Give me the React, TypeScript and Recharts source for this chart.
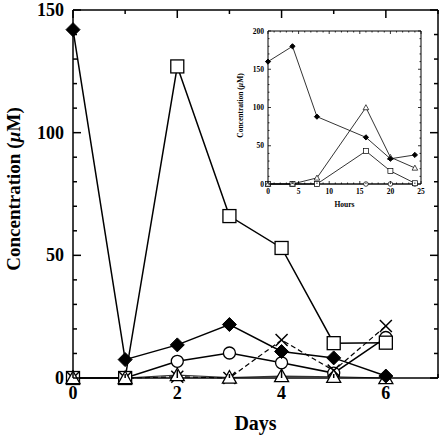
import { Label, Line, LineChart, XAxis, YAxis } from "recharts";

// main chart (days)
const days = [0, 1, 2, 3, 4, 5, 6];
const diamondDays = [142, 7.5, 13.5, 21.8, 10.8, 8.2, 0.8];
const squareDays = [0, 0, 127, 66, 53, 14.2, 14.4];
const circleDays = [0, 0, 6.8, 10.2, 6.2, 2, 16.5];
const crossDays = [0, 0, 0.5, 0, 15.5, 3, 21.2];
const triangleDays = [0, 0, 1.2, 0.2, 0.8, 0.5, 0];

const dayTicks = [0, 1, 2, 3, 4, 5, 6, 7];
const concTicks = [0, 10, 20, 30, 40, 50, 60, 70, 80, 90, 100, 110, 120, 130, 140, 150];

// inset (hours)
const hours = [0, 4, 8, 16, 20, 24];
const diamondHours = [160, 180, 88, 61, 33, 38];
const triangleHours = [0, 0, 8, 100, 35, 21];
const squareHours = [0, 0, 0, 43, 17, 1];
const circleHours = [0, 0, 0, 0, 0, 0];

const hourTicks = Array.from({ length: 26 }, (_, i) => i);
const insetConcTicks = Array.from({ length: 21 }, (_, i) => i * 10);

const mainData = days.map((d, i) => ({
  day: d,
  diamond: diamondDays[i],
  square: squareDays[i],
  circle: circleDays[i],
  cross: crossDays[i],
  triangle: triangleDays[i],
}));

const insetData = hours.map((h, i) => ({
  hour: h,
  diamond: diamondHours[i],
  triangle: triangleHours[i],
  square: squareHours[i],
  circle: circleHours[i],
}));

const FONT = "'Liberation Serif', 'Times New Roman', serif";

type Side = "bottom" | "top" | "left" | "right";

// inward tick marks, longer on major values, label only on majors when asked
function makeTick(
  side: Side,
  majorEvery: number,
  len: number,
  fontSize: number,
  gap: number,
  labels: boolean,
  sw: number
) {
  return (props: any) => {
    const x = Number(props.x);
    const y = Number(props.y);
    const v = props.payload.value;
    const major = v % majorEvery === 0;
    const l = major ? len : len / 2;
    let d = "";
    let text = null;
    const txt = { fontFamily: FONT, fontWeight: "bold" as const, fontSize, fill: "#000", stroke: "none" };
    if (side === "bottom") {
      d = `M${x},${y}V${y - l}`;
      if (labels && major)
        text = (
          <text x={x} y={y + gap} textAnchor="middle" dominantBaseline="hanging" {...txt}>
            {v}
          </text>
        );
    } else if (side === "top") {
      d = `M${x},${y}V${y + l}`;
    } else if (side === "left") {
      d = `M${x},${y}H${x + l}`;
      if (labels && major)
        text = (
          <text x={x - gap} y={y} textAnchor="end" dominantBaseline="central" {...txt}>
            {v}
          </text>
        );
    } else {
      d = `M${x},${y}H${x - l}`;
    }
    return (
      <g key={props.index}>
        <path d={d} stroke="#000" strokeWidth={sw} fill="none" />
        {text}
      </g>
    );
  };
}

function diamond(r: number) {
  return (p: any) => (
    <polygon
      key={p.index}
      points={`${p.cx},${p.cy - r} ${p.cx + r},${p.cy} ${p.cx},${p.cy + r} ${p.cx - r},${p.cy}`}
      fill="#000"
      stroke="#000"
    />
  );
}

function square(r: number, sw: number) {
  return (p: any) => (
    <rect key={p.index} x={p.cx - r} y={p.cy - r} width={2 * r} height={2 * r} fill="#fff" stroke="#000" strokeWidth={sw} />
  );
}

function circle(r: number, sw: number) {
  return (p: any) => <circle key={p.index} cx={p.cx} cy={p.cy} r={r} fill="#fff" stroke="#000" strokeWidth={sw} />;
}

function triangle(r: number, sw: number) {
  return (p: any) => (
    <polygon
      key={p.index}
      points={`${p.cx},${p.cy - r} ${p.cx + r},${p.cy + r * 0.8} ${p.cx - r},${p.cy + r * 0.8}`}
      fill="#fff"
      stroke="#000"
      strokeWidth={sw}
    />
  );
}

function cross(r: number, sw: number) {
  return (p: any) => (
    <g key={p.index} stroke="#000" strokeWidth={sw}>
      <line x1={p.cx - r} y1={p.cy - r} x2={p.cx + r} y2={p.cy + r} />
      <line x1={p.cx - r} y1={p.cy + r} x2={p.cx + r} y2={p.cy - r} />
    </g>
  );
}

function MainChart() {
  const axisLine = { stroke: "#000", strokeWidth: 1.5 };
  return (
    <LineChart width={441} height={439} data={mainData} margin={{ top: 9, right: 2, bottom: 0, left: 0 }}>
      <XAxis
        xAxisId="b"
        dataKey="day"
        type="number"
        domain={[0, 7]}
        ticks={dayTicks}
        interval={0}
        height={61}
        tickSize={0}
        tickMargin={0}
        tickLine={false}
        axisLine={axisLine}
        tick={makeTick("bottom", 2, 8, 18, 8, true, 1.5)}
      >
        <Label
          content={(p: any) => {
            const vb = p.viewBox;
            return (
              <text
                x={vb.x + vb.width / 2}
                y={vb.y + vb.height - 9}
                textAnchor="middle"
                fontFamily={FONT}
                fontWeight="bold"
                fontSize={20}
              >
                Days
              </text>
            );
          }}
        />
      </XAxis>
      <XAxis
        xAxisId="t"
        orientation="top"
        dataKey="day"
        type="number"
        domain={[0, 7]}
        ticks={dayTicks}
        interval={0}
        height={1}
        tickSize={0}
        tickMargin={0}
        tickLine={false}
        axisLine={axisLine}
        tick={makeTick("top", 2, 8, 18, 0, false, 1.5)}
      />
      <YAxis
        yAxisId="l"
        type="number"
        domain={[0, 150]}
        ticks={concTicks}
        interval={0}
        width={73}
        tickSize={0}
        tickMargin={0}
        tickLine={false}
        axisLine={axisLine}
        tick={makeTick("left", 50, 8, 18, 9, true, 1.5)}
      >
        <Label
          content={(p: any) => {
            const vb = p.viewBox;
            const cx = 13;
            const cy = vb.y + vb.height / 2 - 5;
            return (
              <text
                x={cx}
                y={cy}
                transform={`rotate(-90 ${cx} ${cy})`}
                textAnchor="middle"
                dominantBaseline="central"
                fontFamily={FONT}
                fontWeight="bold"
                fontSize={19}
              >
                Concentration (<tspan fontStyle="italic">µ</tspan>M)
              </text>
            );
          }}
        />
      </YAxis>
      <YAxis
        yAxisId="r"
        orientation="right"
        type="number"
        domain={[0, 150]}
        ticks={concTicks}
        interval={0}
        width={1}
        tickSize={0}
        tickMargin={0}
        tickLine={false}
        axisLine={axisLine}
        tick={makeTick("right", 50, 8, 18, 0, false, 1.5)}
      />
      <Line xAxisId="b" yAxisId="l" dataKey="circle" stroke="#000" strokeWidth={1.5} dot={circle(6, 1.3)} isAnimationActive={false} />
      <Line xAxisId="b" yAxisId="r" dataKey="square" stroke="#000" strokeWidth={1.5} dot={square(6.5, 1.3)} isAnimationActive={false} />
      <Line
        xAxisId="b"
        yAxisId="l"
        dataKey="cross"
        stroke="#000"
        strokeWidth={1.2}
        strokeDasharray="5 3"
        dot={cross(6, 1.5)}
        isAnimationActive={false}
      />
      <Line xAxisId="b" yAxisId="l" dataKey="triangle" stroke="#333" strokeWidth={1.2} dot={triangle(7, 1.3)} isAnimationActive={false} />
      <Line xAxisId="t" yAxisId="l" dataKey="diamond" stroke="#000" strokeWidth={1.5} dot={diamond(7)} isAnimationActive={false} />
    </LineChart>
  );
}

function InsetChart() {
  const axisLine = { stroke: "#000", strokeWidth: 1 };
  return (
    <LineChart width={200} height={186} data={insetData} margin={{ top: 5, right: 6, bottom: 0, left: 0 }}>
      <XAxis
        xAxisId="b"
        dataKey="hour"
        type="number"
        domain={[0, 25]}
        ticks={hourTicks}
        interval={0}
        height={27}
        tickSize={0}
        tickMargin={0}
        tickLine={false}
        axisLine={axisLine}
        tick={makeTick("bottom", 5, 3, 7.5, 4, true, 0.8)}
      >
        <Label
          content={(p: any) => {
            const vb = p.viewBox;
            return (
              <text
                x={vb.x + vb.width / 2}
                y={vb.y + vb.height - 4}
                textAnchor="middle"
                fontFamily={FONT}
                fontWeight="bold"
                fontSize={7.5}
              >
                Hours
              </text>
            );
          }}
        />
      </XAxis>
      <XAxis
        xAxisId="t"
        orientation="top"
        dataKey="hour"
        type="number"
        domain={[0, 25]}
        ticks={hourTicks}
        interval={0}
        height={1}
        tickSize={0}
        tickMargin={0}
        tickLine={false}
        axisLine={axisLine}
        tick={makeTick("top", 5, 3, 7.5, 0, false, 0.8)}
      />
      <YAxis
        yAxisId="l"
        type="number"
        domain={[0, 200]}
        ticks={insetConcTicks}
        interval={0}
        width={40}
        tickSize={0}
        tickMargin={0}
        tickLine={false}
        axisLine={axisLine}
        tick={makeTick("left", 50, 3, 7.5, 4, true, 0.8)}
      >
        <Label
          content={(p: any) => {
            const vb = p.viewBox;
            const cx = vb.x + 12;
            const cy = vb.y + vb.height / 2 - 2;
            return (
              <text
                x={cx}
                y={cy}
                transform={`rotate(-90 ${cx} ${cy})`}
                textAnchor="middle"
                dominantBaseline="central"
                fontFamily={FONT}
                fontWeight="bold"
                fontSize={7.5}
              >
                Concentration (<tspan fontStyle="italic">µ</tspan>M)
              </text>
            );
          }}
        />
      </YAxis>
      <YAxis
        yAxisId="r"
        orientation="right"
        type="number"
        domain={[0, 200]}
        ticks={insetConcTicks}
        interval={0}
        width={1}
        tickSize={0}
        tickMargin={0}
        tickLine={false}
        axisLine={axisLine}
        tick={makeTick("right", 50, 3, 7.5, 0, false, 0.8)}
      />
      <Line xAxisId="b" yAxisId="l" dataKey="circle" stroke="#000" strokeWidth={0.8} dot={circle(2.3, 0.7)} isAnimationActive={false} />
      <Line xAxisId="b" yAxisId="r" dataKey="square" stroke="#000" strokeWidth={0.8} dot={square(2.5, 0.7)} isAnimationActive={false} />
      <Line xAxisId="b" yAxisId="l" dataKey="triangle" stroke="#000" strokeWidth={0.8} dot={triangle(2.8, 0.7)} isAnimationActive={false} />
      <Line xAxisId="t" yAxisId="l" dataKey="diamond" stroke="#000" strokeWidth={0.8} dot={diamond(2.6)} isAnimationActive={false} />
    </LineChart>
  );
}

export default function App() {
  return (
    <div style={{ position: "absolute", left: 0, top: 0, width: 441, height: 439, background: "#fff" }}>
      <MainChart />
      <div style={{ position: "absolute", left: 228, top: 25 }}>
        <InsetChart />
      </div>
    </div>
  );
}
